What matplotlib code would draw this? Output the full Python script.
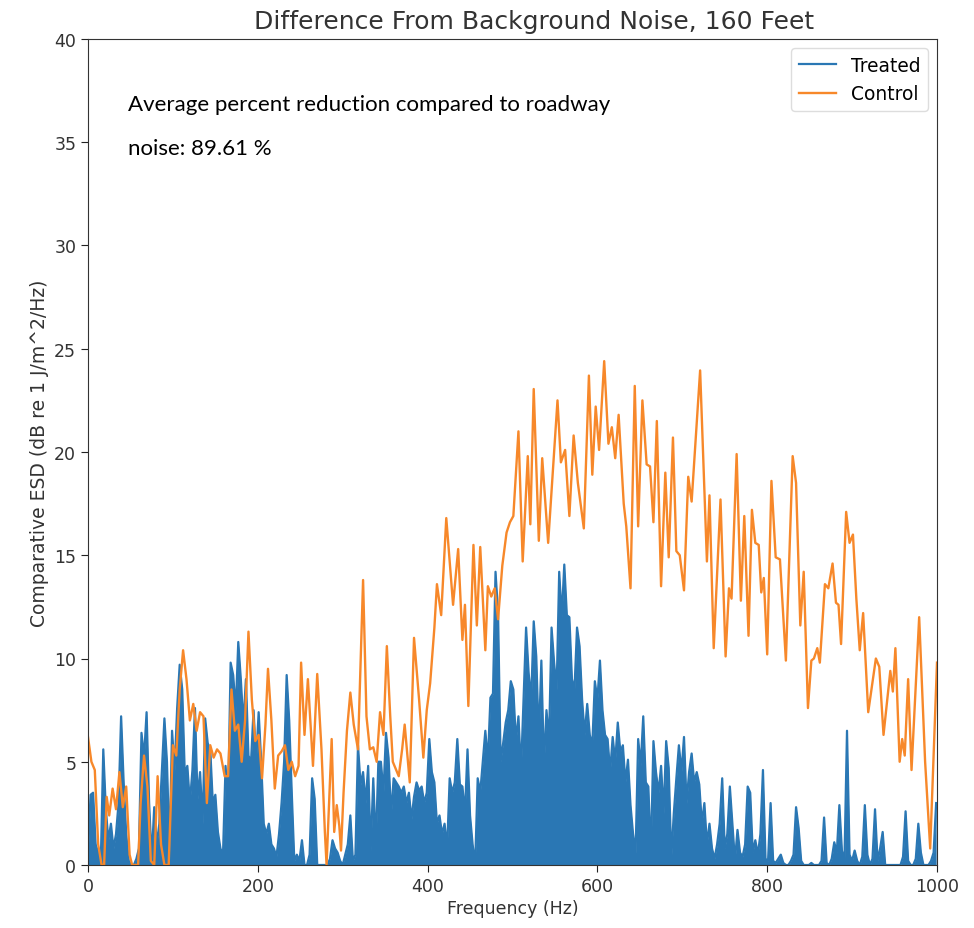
import numpy as np
import matplotlib
matplotlib.use("Agg")
import matplotlib.pyplot as plt

# ---------------- data ----------------
treated_freq = np.arange(0, 1000, 3)
treated_esd = [
    0.5, 3.4, 3.5, 1.0, 0.6, 0.0, 5.6, 2.7, 1.2, 2.0,
    0.8, 1.5, 3.0, 7.2, 4.0, 1.5, 0.2, 0.0, 0.0, 0.3,
    0.8, 6.4, 5.2, 7.4, 3.0, 0.3, 2.8, 1.0, 2.0, 4.5,
    7.1, 5.0, 0.6, 6.5, 4.6, 7.6, 9.7, 8.5, 4.4, 4.8,
    3.0, 4.6, 7.6, 3.2, 4.5, 2.0, 7.1, 5.9, 5.6, 3.0,
    3.4, 1.6, 0.8, 0.5, 4.8, 3.0, 9.8, 9.2, 7.5, 10.8,
    9.0, 6.8, 9.0, 5.3, 5.0, 7.5, 5.0, 7.4, 5.0, 2.0,
    1.5, 2.0, 1.0, 0.8, 0.4, 1.5, 3.0, 5.0, 9.2, 7.0,
    3.5, 0.2, 0.5, 0.2, 1.2, 0.0, 0.0, 0.5, 4.2, 3.2,
    0.0, 0.0, 0.0, 0.0, 0.0, 0.3, 1.2, 0.8, 0.6, 0.2,
    0.0, 0.5, 1.0, 2.4, 0.2, 0.5, 5.8, 3.9, 4.5, 3.0,
    4.8, 0.7, 4.2, 0.9, 5.0, 5.0, 3.5, 6.4, 5.2, 2.4,
    4.2, 4.0, 3.8, 3.5, 3.8, 3.0, 3.5, 2.2, 3.3, 4.0,
    3.6, 3.8, 3.0, 3.5, 6.1, 4.5, 4.0, 2.0, 2.4, 1.5,
    2.0, 0.8, 4.2, 3.5, 4.0, 6.1, 3.9, 3.8, 2.5, 5.6,
    2.4, 1.0, 0.0, 4.2, 3.5, 5.0, 6.5, 5.0, 8.1, 8.3,
    14.2, 12.2, 5.0, 5.9, 6.9, 7.5, 8.9, 8.5, 6.0, 7.2,
    4.5, 8.0, 11.5, 9.3, 8.0, 11.8, 10.1, 6.0, 9.9, 4.8,
    7.5, 6.0, 11.5, 9.8, 8.5, 14.2, 12.0, 14.55, 12.1, 12.0,
    9.0, 8.5, 11.5, 10.6, 8.0, 6.3, 7.8, 6.3, 5.8, 8.9,
    8.0, 9.9, 7.5, 6.3, 6.1, 4.5, 6.2, 5.0, 6.9, 5.5,
    5.8, 4.0, 5.1, 2.9, 1.5, 0.6, 6.1, 4.8, 7.2, 4.0,
    3.8, 0.5, 6.0, 4.5, 3.5, 4.8, 2.5, 6.0, 4.7, 0.3,
    2.5, 4.2, 5.8, 4.5, 6.2, 3.0, 4.5, 5.4, 4.0, 4.5,
    3.9, 2.0, 3.0, 1.0, 2.0, 0.8, 0.3, 1.0, 2.0, 4.2,
    0.8, 1.5, 3.8, 2.0, 0.2, 1.7, 0.6, 0.4, 1.0, 3.8,
    3.5, 0.6, 1.2, 0.5, 1.5, 4.6, 0.3, 0.2, 3.0, 0.2,
    0.1, 0.3, 0.5, 0.1, 0.0, 0.0, 0.2, 0.5, 2.8, 1.8,
    0.2, 0.0, 0.0, 0.0, 0.1, 0.0, 0.0, 0.0, 0.2, 2.3,
    0.1, 0.0, 0.3, 1.1, 0.6, 2.9, 0.7, 0.2, 6.5, 0.5,
    0.2, 0.7, 0.2, 0.0, 0.4, 2.9, 0.5, 0.0, 0.3, 2.7,
    0.2, 0.8, 1.6, 0.0, 0.0, 0.0, 0.0, 0.0, 0.0, 0.0,
    0.4, 2.6, 0.2, 0.0, 0.0, 0.3, 2.0, 0.6, 0.0, 0.0,
    0.0, 0.2, 0.6, 3.0,
]

control_freq = [
    0, 4, 8, 12, 16, 19, 22, 25, 29, 33, 37, 41, 45, 49, 52, 59, 62, 66, 70, 74,
    78, 82, 86, 90, 95, 100, 104, 108, 112, 116, 120, 124, 128, 132, 136, 140, 144, 148, 152, 156,
    161, 165, 169, 173, 177, 181, 185, 189, 193, 197, 201, 205, 209, 212, 216, 220, 224, 228, 232, 236,
    240, 244, 248, 251, 255, 259, 265, 270, 275, 279, 281, 285, 287, 290, 293, 296, 298, 301, 305, 309,
    313, 318, 324, 328, 332, 336, 340, 344, 348, 352, 356, 359, 366, 370, 373, 379, 384, 390, 395, 399,
    403, 408, 411, 416, 422, 430, 436, 441, 444, 448, 454, 458, 462, 468, 471, 475, 479, 483, 488, 493,
    497, 501, 507, 512, 518, 521, 525, 531, 535, 542, 553, 557, 562, 567, 572, 577, 584, 590, 594, 598,
    602, 608, 613, 617, 621, 625, 631, 634, 639, 644, 648, 653, 658, 662, 666, 670, 675, 680, 684, 689,
    693, 697, 702, 707, 711, 721, 729, 732, 737, 745, 751, 755, 758, 764, 769, 773, 778, 782, 786, 790,
    793, 796, 800, 805, 810, 815, 822, 830, 834, 839, 843, 848, 852, 855, 859, 862, 868, 872, 877, 881,
    884, 887, 893, 897, 901, 905, 909, 913, 919, 928, 932, 937, 945, 948, 951, 956, 959, 962, 966, 970,
    979, 986, 992, 1000,
]
control_esd = [
    6.2, 5.0, 4.6, 1.0, 0.0, 0.0, 3.3, 2.4, 3.7, 2.7, 4.5, 2.8, 3.8, 0.5, 0.0, 0.0, 3.0, 5.3, 3.8, 0.2,
    0.0, 4.3, 1.0, 0.0, 0.0, 5.8, 5.3, 8.5, 10.4, 9.0, 7.0, 7.8, 6.5, 7.4, 7.2, 3.0, 5.8, 5.2, 5.6, 5.4,
    4.3, 4.3, 8.5, 6.5, 6.8, 5.0, 7.0, 11.3, 8.0, 6.0, 6.3, 4.2, 6.8, 9.5, 7.0, 3.7, 5.3, 5.5, 5.8, 4.6,
    5.0, 4.3, 4.8, 9.8, 6.3, 9.0, 4.8, 9.25, 5.6, 1.6, 0.0, 4.0, 6.1, 1.6, 2.9, 1.9, 0.7, 3.5, 6.5, 8.35,
    6.8, 5.6, 13.8, 7.2, 5.6, 5.7, 5.0, 7.4, 6.3, 10.6, 7.2, 5.0, 4.3, 5.6, 6.8, 4.0, 11.0, 8.0, 5.2, 7.5,
    8.8, 11.5, 13.6, 12.1, 16.8, 12.6, 15.3, 10.9, 12.6, 7.7, 15.5, 11.6, 15.4, 10.4, 13.5, 13.0, 13.4, 11.9, 14.5, 16.1,
    16.6, 16.9, 21.0, 14.7, 19.8, 16.5, 23.05, 15.7, 19.7, 15.6, 22.5, 19.5, 20.1, 16.9, 20.8, 18.5, 16.3, 23.7, 18.9, 22.2,
    20.1, 24.4, 20.4, 21.2, 19.7, 21.8, 17.5, 16.4, 13.4, 23.2, 16.4, 22.5, 19.4, 19.3, 16.6, 21.5, 13.5, 19.0, 14.9, 20.7,
    15.2, 15.0, 13.3, 18.8, 17.6, 23.95, 14.7, 17.9, 10.5, 17.7, 10.1, 13.4, 12.9, 19.9, 12.8, 16.9, 11.1, 17.2, 15.6, 15.5,
    13.2, 13.9, 10.2, 18.6, 14.9, 14.8, 9.9, 19.8, 18.5, 11.6, 14.2, 7.6, 9.9, 10.0, 10.5, 9.8, 13.6, 13.4, 14.6, 12.7,
    12.6, 10.7, 17.1, 15.6, 16.0, 12.9, 10.4, 12.2, 7.4, 10.0, 9.6, 6.3, 9.4, 8.4, 10.5, 5.0, 6.1, 5.3, 9.0, 4.6,
    12.0, 5.0, 0.8, 9.8,
]

series_labels = ["Treated", "Control"]
title_text = "Difference From Background Noise, 160 Feet"
xlabel_text = "Frequency (Hz)"
ylabel_text = "Comparative ESD (dB re 1 J/m^2/Hz)"
note_line1 = "Average percent reduction compared to roadway"
note_line2 = "noise: 89.61 %"
x_ticks = [0, 200, 400, 600, 800, 1000]
y_ticks = [0, 5, 10, 15, 20, 25, 30, 35, 40]

# ---------------- plot ----------------
blue = "#2a77b4"
orange = "#f7882a"

fig = plt.figure(figsize=(9.74, 9.29), dpi=100)
ax = fig.add_axes([88 / 974, 1 - 866 / 929, (937 - 88) / 974, (866 - 40) / 929])

ax.fill_between(treated_freq, 0, treated_esd, color=blue, lw=0)
ax.plot(treated_freq, treated_esd, color=blue, lw=1.6, label=series_labels[0])
ax.plot(control_freq, control_esd, color=orange, lw=1.7, label=series_labels[1])

ax.set_xlim(0, 1000)
ax.set_ylim(0, 40)
ax.set_xticks(x_ticks)
ax.set_yticks(y_ticks)
ax.tick_params(labelsize=12.5, colors="#222222", length=5)
for lab in ax.get_xticklabels() + ax.get_yticklabels():
    lab.set_color("#333333")

ax.set_title(title_text, fontsize=18, color="#333333", pad=8, x=0.525)
ax.set_xlabel(xlabel_text, fontsize=12.5, color="#333333", labelpad=3)
ax.set_ylabel(ylabel_text, fontsize=13.5, color="#333333", labelpad=4)

ax.text(47, 36.85, note_line1, fontsize=16, family=["Lato", "DejaVu Sans"],
        va="center", ha="left", color="black")
ax.text(47, 34.7, note_line2, fontsize=16, family=["Lato", "DejaVu Sans"],
        va="center", ha="left", color="black")

leg = ax.legend(loc="upper right", fontsize=13.4, framealpha=1.0, edgecolor="#dddddd")

for sp in ax.spines.values():
    sp.set_color("#333333")

fig.savefig("out.png", dpi=100)
